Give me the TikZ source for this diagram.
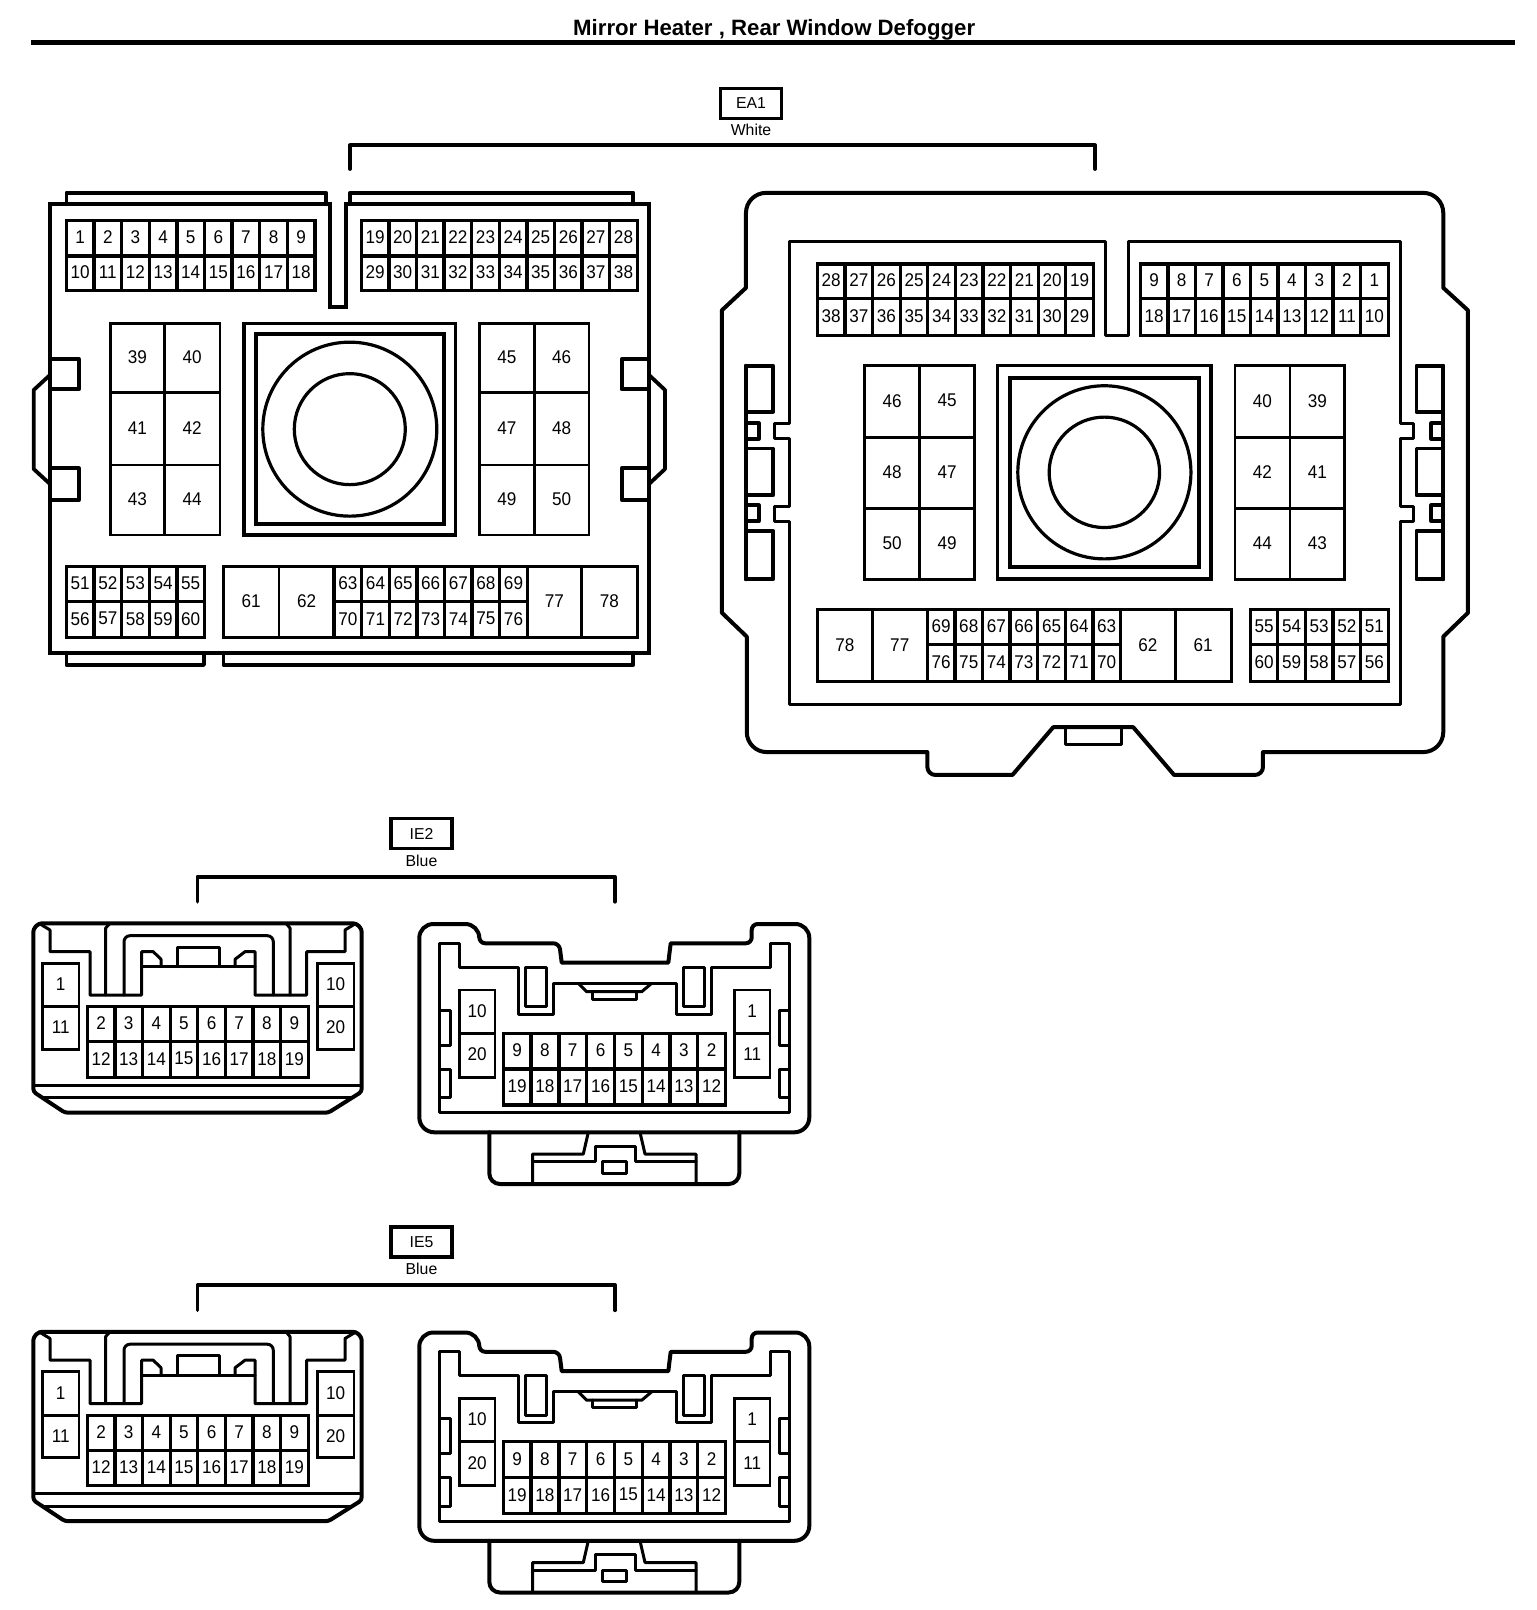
\documentclass[tikz,border=0pt]{standalone}
\usepackage{fontspec}
\setmainfont{Liberation Sans}
\newfontfamily\lblfont[FakeStretch=0.93]{Liberation Sans}
\tikzset{
  x=0.5pt,y=-0.5pt,
  ln/.style={line width=1.9pt,line join=round,line cap=round},
  cell/.style={line width=1.65pt,line join=miter},
  block/.style={line width=1.4pt,line join=miter},
  thin ln/.style={line width=1.5pt,line join=round,line cap=round},
  lab/.style={font=\lblfont\fontsize{9.2}{10}\selectfont,inner sep=0pt,yshift=0.4pt},
  small lab/.style={font=\fontsize{7.9}{10}\selectfont,inner sep=0pt},
}
\newcommand{\cellrow}[5]{%
  \foreach \t [count=\i from 0] in {#5}{
    \draw[cell] ({#1+\i*#2},#3) rectangle ({#1+(\i+1)*#2},#4);
    \node[lab] at ({#1+(\i+.5)*#2},{(#3+#4)/2}) {\t};
  }%
}
\newcommand{\cellbox}[5]{%
  \draw[block] (#1,#2) rectangle (#3,#4);
  \node[lab] at ({(#1+#3)/2},{(#2+#4)/2}) {#5};
}
\newcommand{\hub}[8]{% outer x0 y0 x1 y1, inner x0 y0 x1 y1
  \draw[block,line width=1.7pt] (#1,#2) rectangle (#3,#4);
  \draw[block,line width=2pt] (#5,#6) rectangle (#7,#8);
  \draw[line width=1.6pt] ({(#1+#3)/2},{(#2+#4)/2}) circle [radius=87];
  \draw[line width=1.6pt] ({(#1+#3)/2},{(#2+#4)/2}) circle [radius=55.5];
}
\newcommand{\tagbox}[5]{% name, cx, cy, label, colour word
  \node[draw,line width=1.7pt,minimum width=30.5pt,minimum height=15pt,inner sep=0pt,small lab] (#1) at (#2,#3) {#4};
  \node[small lab] (#1col) at (#2,{#3+27}) {#5};
}
\newcommand{\ieconn}[3]{%
\begin{scope}[shift={(0,#1)}]
  \tagbox{#2}{421.5}{833.5}{#3}{Blue}
  \coordinate (#2a) at (197.5,901.7);
  \coordinate (#2b) at (615,901.7);
  \draw[ln] (#2a) -- (197.5,876.7) -- (615,876.7) -- (#2b);
  % left view
  \draw[ln,line width=2pt,rounded corners=1.5pt] (33.3,929) -- (39,923.3) -- (356,923.3) -- (361.7,929) -- (361.7,1091.7) -- (328.3,1112.7) -- (65,1112.7) -- (33.3,1091.7) -- cycle;
  \draw[thin ln] (33.3,1085) -- (361.7,1085);
  \draw[thin ln] (43.3,1097.7) -- (351.7,1097.7);
  \draw[thin ln] (39,923.3) -- (50,930) -- (50,951.7) -- (90,951.7) -- (90,995) -- (141.7,995) -- (141.7,951.7) -- (153.3,951.7) -- (161,959.3) -- (161,966.7);
  \draw[thin ln] (141.7,966.7) -- (255,966.7);
  \draw[thin ln] (177.7,966.7) -- (177.7,947.3) -- (219.3,947.3) -- (219.3,966.7);
  \draw[thin ln] (235,966.7) -- (235,959.3) -- (245,951.7) -- (255,951.7) -- (255,995) -- (306.7,995) -- (306.7,951.7) -- (345,951.7) -- (345,930) -- (356,923.3);
  \draw[thin ln] (105.7,995) -- (105.7,928) -- (110,923.3);
  \draw[thin ln] (290,995) -- (290,928) -- (286,923.3);
  \draw[thin ln,rounded corners=3pt] (124,995) -- (124,935.7) -- (273.3,935.7) -- (273.3,995);
  \cellbox{42.3}{963.3}{79}{1006.7}{1}
  \cellbox{42.3}{1006.7}{79}{1049.3}{11}
  \cellbox{317.3}{963.3}{354}{1006.7}{10}
  \cellbox{317.3}{1006.7}{354}{1049.3}{20}
  \cellrow{87.3}{27.625}{1006.7}{1041.7}{2,3,4,5,6,7,8,9}
  \cellrow{87.3}{27.625}{1041.7}{1077.3}{12,13,14,15,16,17,18,19}
  % right view
  \draw[ln,line width=2pt,rounded corners=7pt] (419.3,924) -- (479.3,924) [rounded corners=3pt] -- (479.3,943.3) -- (559.3,943.3) [sharp corners] -- (561.7,962.7) -- (668.3,962.7) -- (670.7,943.3) [rounded corners=3pt] -- (751.7,943.3) -- (751.7,924) [rounded corners=7pt] -- (809.3,924) [rounded corners=7.5pt] -- (809.3,1132.3) -- (419.3,1132.3) [rounded corners=7pt] -- cycle;
  \draw[thin ln] (439.3,943.3) -- (459.3,943.3) -- (459.3,967.3) -- (518.3,967.3) -- (518.3,1014.3) -- (553.3,1014.3) -- (553.3,983.3) -- (676.7,983.3) -- (676.7,1014.3) -- (711.7,1014.3) -- (711.7,967.3) -- (770,967.3) -- (770,943.3) -- (789.3,943.3) -- (789.3,1112.7) -- (439.3,1112.7) -- cycle;
  \draw[thin ln] (525,967.3) rectangle (546,1006.7);
  \draw[thin ln] (683.3,967.3) rectangle (704,1006.7);
  \draw[thin ln] (578.3,983.3) -- (586.7,991.7) -- (641.7,991.7) -- (651.7,983.3);
  \draw[thin ln] (592.7,991.7) -- (592.7,999.3) -- (636.7,999.3) -- (636.7,991.7);
  \cellbox{459.3}{990}{495}{1033.3}{10}
  \cellbox{459.3}{1033.3}{495}{1077.3}{20}
  \cellbox{734.3}{990}{770}{1033.3}{1}
  \cellbox{734.3}{1033.3}{770}{1077.3}{11}
  \cellrow{503.3}{27.775}{1033.3}{1069}{9,8,7,6,5,4,3,2}
  \cellrow{503.3}{27.775}{1069}{1105}{19,18,17,16,15,14,13,12}
  \draw[thin ln] (440.7,1010) -- (450,1010) -- (450,1045) -- (440.7,1045);
  \draw[thin ln] (440.7,1069.3) -- (450,1069.3) -- (450,1097.7) -- (440.7,1097.7);
  \draw[thin ln] (788,1010) -- (779.3,1010) -- (779.3,1045) -- (788,1045);
  \draw[thin ln] (788,1069.3) -- (779.3,1069.3) -- (779.3,1097.7) -- (788,1097.7);
  \draw[ln,line width=2pt,rounded corners=5.3pt] (489.3,1132.3) -- (489.3,1184) -- (739.3,1184) -- (739.3,1132.3);
  \draw[thin ln] (532.7,1184) -- (532.7,1154) -- (583.3,1154) -- (588.3,1132.3);
  \draw[thin ln] (696,1184) -- (696,1154) -- (645,1154) -- (640,1132.3);
  \draw[thin ln] (532.7,1161.7) -- (595,1161.7) -- (595,1146) -- (635,1146) -- (635,1161.7) -- (696,1161.7);
  \draw[thin ln] (602.3,1161.7) rectangle (626.7,1173.3);
\end{scope}}
\begin{document}
\begin{tikzpicture}
\useasboundingbox (0,0) rectangle (1536,1610);
\fill[white] (0,0) rectangle (1536,1610);
% title
\node[font=\bfseries\fontsize{11.1}{12}\selectfont,inner sep=0pt,anchor=base] (title) at (774.2,35.7) {Mirror Heater , Rear Window Defogger};
\coordinate (ruleL) at (31,42.5);
\coordinate (ruleR) at (1515,42.5);
\draw[line width=2.5pt] (ruleL) -- (ruleR);
% EA1 tag
\tagbox{ea}{751}{103.3}{EA1}{White}
\coordinate (eaa) at (350,169);
\coordinate (eab) at (1095,169);
\draw[ln] (eaa) -- (350,145.4) -- (1095,145.4) -- (eab);
% ---- EA1 left
\draw[ln,line width=2pt,line cap=butt,line join=miter] (50,204.3) -- (330.1,204.3) -- (330.1,307) -- (346,307) -- (346,204.3) -- (649,204.3) -- (649,652.7) -- (50,652.7) -- cycle;
\draw[ln] (66.4,204.3) -- (66.4,192.7) -- (326.2,192.7) -- (326.2,204.3);
\draw[ln] (350,204.3) -- (350,192.7) -- (633.3,192.7) -- (633.3,204.3);
\draw[ln] (66.4,652.7) -- (66.4,665) -- (204,665) -- (204,652.7);
\draw[ln] (223.4,652.7) -- (223.4,665) -- (633.3,665) -- (633.3,652.7);
\draw[ln] (50,359) -- (78.8,359) -- (78.8,389.3) -- (50,389.3);
\draw[ln] (50,468.3) -- (78.8,468.3) -- (78.8,500) -- (50,500);
\draw[ln] (50,375) -- (33.7,390) -- (33.7,469) -- (50,484);
\draw[ln] (649,359) -- (621.7,359) -- (621.7,389.3) -- (649,389.3);
\draw[ln] (649,468.3) -- (621.7,468.3) -- (621.7,500) -- (649,500);
\draw[ln] (649,375) -- (665,390) -- (665,469) -- (649,484);
\cellrow{66.4}{27.62}{220.7}{256}{1,2,3,4,5,6,7,8,9}
\cellrow{66.4}{27.62}{256}{290.7}{10,11,12,13,14,15,16,17,18}
\cellrow{361.3}{27.6}{220.7}{256}{19,20,21,22,23,24,25,26,27,28}
\cellrow{361.3}{27.6}{256}{290.7}{29,30,31,32,33,34,35,36,37,38}
\cellbox{110.1}{323.3}{164.5}{392.7}{39}
\cellbox{164.5}{323.3}{219.9}{392.7}{40}
\cellbox{110.1}{392.7}{164.5}{465}{41}
\cellbox{164.5}{392.7}{219.9}{465}{42}
\cellbox{110.1}{465}{164.5}{535}{43}
\cellbox{164.5}{465}{219.9}{535}{44}
\cellbox{479.3}{323.3}{534.3}{392.7}{45}
\cellbox{534.3}{323.3}{589}{392.7}{46}
\cellbox{479.3}{392.7}{534.3}{465}{47}
\cellbox{534.3}{392.7}{589}{465}{48}
\cellbox{479.3}{465}{534.3}{535}{49}
\cellbox{534.3}{465}{589}{535}{50}
\hub{243.9}{323.3}{455.7}{535}{256}{334.3}{443.7}{524}
\cellrow{66.4}{27.62}{566.7}{601.7}{51,52,53,54,55}
\cellrow{66.4}{27.62}{601.7}{637.3}{56,57,58,59,60}
\cellbox{223.4}{566.7}{279}{637.3}{61}
\cellbox{279}{566.7}{334.1}{637.3}{62}
\cellrow{334.1}{27.6}{566.7}{601.7}{63,64,65,66,67,68,69}
\cellrow{334.1}{27.6}{601.7}{637.3}{70,71,72,73,74,75,76}
\cellbox{527.3}{566.7}{581.3}{637.3}{77}
\cellbox{581.3}{566.7}{637.3}{637.3}{78}
% ---- EA1 right
\begin{scope}[shift={(700,170)},scale=.995,shift={(-700,-170)}]
\draw[ln,line width=2pt] [rounded corners=10pt] (746.2,193) -- (746.2,240) [sharp corners] -- (746.2,288.4) -- (722,311) -- (722,615) -- (747,639) [rounded corners=10pt] -- (747,755) [sharp corners] -- (928.5,755) [rounded corners=4pt] -- (928.5,778) [sharp corners] -- (1014,778) -- (1055,730) -- (1135.4,730) -- (1176.5,778) [rounded corners=4pt] -- (1265.8,778) [sharp corners] -- (1265.8,755) [rounded corners=10pt] -- (1447,755) [sharp corners] -- (1447,639) -- (1471.8,615) -- (1471.8,311) -- (1447,288.4) [rounded corners=10pt] -- (1447,193) -- cycle;
\draw[thin ln] (1067,730) -- (1067,747.5) -- (1123.6,747.5) -- (1123.6,730);
\draw[thin ln] (790,241.5) -- (1108,241.5) -- (1108,336) -- (1130.3,336) -- (1130.3,241.5) -- (1403.5,241.5) -- (1403.5,424.4) -- (1417,424.4) -- (1417,440) -- (1403.5,440) -- (1403.5,508) -- (1417,508) -- (1417,523) -- (1403.5,523) -- (1403.5,707.4) -- (790,707.4) -- (790,523) -- (774.5,523) -- (774.5,508) -- (790,508) -- (790,440) -- (774.5,440) -- (774.5,424.4) -- (790,424.4) -- cycle;
\draw[ln] (746,366.7) -- (746,581.4);
\draw[ln] (746,366.7) rectangle (773.4,413);
\draw[ln] (746,450) rectangle (773.4,497);
\draw[ln] (746,532.5) rectangle (773.4,581.4);
\draw[ln] (746,424.4) rectangle (759,440);
\draw[ln] (746,507) rectangle (759,523);
\draw[ln] (1447,366.7) -- (1447,581.4);
\draw[ln] (1420,366.7) rectangle (1447,413);
\draw[ln] (1420,450) rectangle (1447,497);
\draw[ln] (1420,532.5) rectangle (1447,581.4);
\draw[ln] (1435,424.4) rectangle (1447,440);
\draw[ln] (1435,507) rectangle (1447,523);
\cellrow{818}{27.74}{264.6}{299}{28,27,26,25,24,23,22,21,20,19}
\cellrow{818}{27.74}{299}{336}{38,37,36,35,34,33,32,31,30,29}
\cellrow{1142.6}{27.67}{264.6}{299}{9,8,7,6,5,4,3,2,1}
\cellrow{1142.6}{27.67}{299}{336}{18,17,16,15,14,13,12,11,10}
\cellbox{865.3}{366.7}{920.8}{438.7}{46}
\cellbox{920.8}{366.7}{976}{438.7}{45}
\cellbox{865.3}{438.7}{920.8}{510}{48}
\cellbox{920.8}{438.7}{976}{510}{47}
\cellbox{865.3}{510}{920.8}{581.4}{50}
\cellbox{920.8}{510}{976}{581.4}{49}
\cellbox{1237.6}{366.7}{1293}{438.7}{40}
\cellbox{1293}{366.7}{1348}{438.7}{39}
\cellbox{1237.6}{438.7}{1293}{510}{42}
\cellbox{1293}{438.7}{1348}{510}{41}
\cellbox{1237.6}{510}{1293}{581.4}{44}
\cellbox{1293}{510}{1348}{581.4}{43}
\hub{999.2}{366.7}{1213.6}{581}{1011.6}{379.3}{1201.5}{568.7}
\cellbox{818}{612}{873}{684}{78}
\cellbox{873}{612}{928.5}{684}{77}
\cellrow{928.5}{27.73}{612}{647}{69,68,67,66,65,64,63}
\cellrow{928.5}{27.73}{647}{684}{76,75,74,73,72,71,70}
\cellbox{1122.6}{612}{1177.5}{684}{62}
\cellbox{1177.5}{612}{1234}{684}{61}
\cellrow{1253}{27.73}{612}{647}{55,54,53,52,51}
\cellrow{1253}{27.73}{647}{684}{60,59,58,57,56}
\end{scope}
% ---- IE2 and IE5
\ieconn{0}{ieb}{IE2}
\ieconn{408.5}{iee}{IE5}
\end{tikzpicture}
\end{document}
